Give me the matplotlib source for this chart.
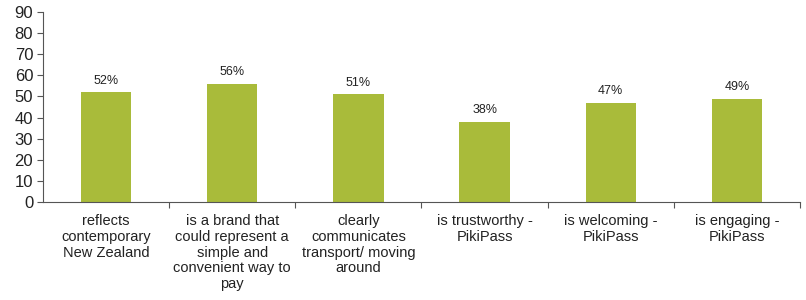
import matplotlib
matplotlib.use("Agg")
import matplotlib.pyplot as plt
import numpy as np

plt.rcParams['font.family'] = ['Liberation Sans', 'DejaVu Sans']

categories = [
    "reflects\ncontemporary\nNew Zealand",
    "is a brand that\ncould represent a\nsimple and\nconvenient way to\npay",
    "clearly\ncommunicates\ntransport/ moving\naround",
    "is trustworthy -\nPikiPass",
    "is welcoming -\nPikiPass",
    "is engaging -\nPikiPass",
]
values = [52, 56, 51, 38, 47, 49]
yticks = list(range(0, 91, 10))

fig = plt.figure(figsize=(8.06, 3.0), dpi=100)
ax = fig.add_axes([0.0533, 0.3267, 0.9393, 0.6333])

x = np.arange(len(categories))
bars = ax.bar(x, values, width=0.4, color="#a9bb3a", zorder=2)
for xi, v in zip(x, values):
    ax.text(xi, v + 2.5, f"{v}%", ha="center", va="bottom", fontsize=9, color="#222222")

ax.set_xlim(-0.5, len(categories) - 0.5)
ax.set_ylim(0, 90)
ax.set_yticks(yticks)
ax.tick_params(axis='y', labelsize=12, length=4, width=0.8, color="#555555", pad=3, labelcolor="#222222")

ax.set_xticks(x)
ax.set_xticklabels(categories, fontsize=10.5, color="#222222", linespacing=1.15)
ax.tick_params(axis='x', length=0, pad=9)
ax.set_xticks(np.arange(0.5, len(categories) - 0.4, 1), minor=True)
ax.tick_params(axis='x', which='minor', length=4, width=0.8, color="#555555")

for s in ["top", "right"]:
    ax.spines[s].set_visible(False)
for s in ["left", "bottom"]:
    ax.spines[s].set_color("#555555")
    ax.spines[s].set_linewidth(0.8)

fig.savefig("out.png", dpi=100)
